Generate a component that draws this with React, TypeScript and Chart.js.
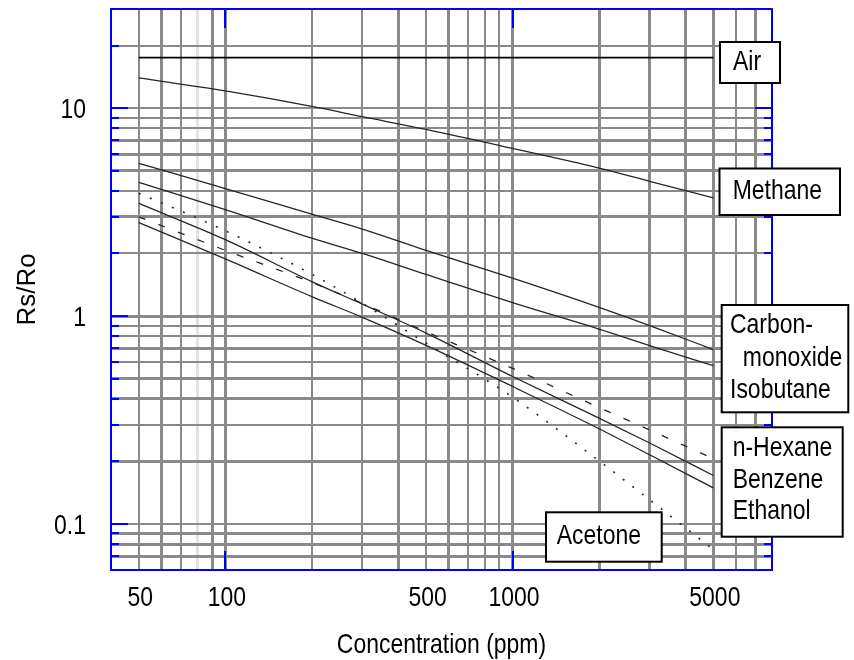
import React, { useEffect, useRef } from 'react';
import { Chart, registerables } from 'chart.js';

Chart.register(...registerables);

// ---- data ----
const concentrations = [50, 100, 200, 300, 500, 1000, 2000, 3000, 5000];
const air = [17.5, 17.5, 17.5, 17.5, 17.5, 17.5, 17.5, 17.5, 17.5];
const methane = [14.0, 12.1, 10.2, 9.1, 7.9, 6.4, 5.15, 4.45, 3.7];
const carbonMonoxide = [5.43, 4.1, 3.09, 2.62, 2.07, 1.52, 1.1, 0.9, 0.69];
const isobutane = [4.4, 3.25, 2.37, 2.0, 1.585, 1.16, 0.865, 0.72, 0.577];
const nHexane = [3.0, 2.07, 1.45, 1.15, 0.84, 0.56, 0.363, 0.283, 0.206];
const benzene = [3.48, 2.33, 1.465, 1.14, 0.828, 0.512, 0.323, 0.245, 0.171];
const ethanol = [2.815, 1.883, 1.24, 0.986, 0.723, 0.458, 0.287, 0.215, 0.149];
const acetone = [3.9, 2.57, 1.59, 1.15, 0.74, 0.407, 0.201, 0.1306, 0.0752];

const xGridValues = [50, 60, 70, 80, 90, 100, 200, 300, 400, 500, 600, 700, 800, 900, 1000, 2000, 3000, 4000, 5000, 6000, 7000];
const xTickLabels = [50, 100, 500, 1000, 5000];
const yGridValues = [0.07, 0.08, 0.09, 0.1, 0.2, 0.3, 0.4, 0.5, 0.6, 0.7, 0.8, 0.9, 1, 2, 3, 4, 5, 6, 7, 8, 9, 10, 20];
const yTickLabels = [0.1, 1, 10];
const xMajorTicks = [100, 1000];
const yMajorTicks = [0.1, 1, 10];

const xTitle = 'Concentration (ppm)';
const yTitle = 'Rs/Ro';
const airLabel = ['Air'];
const methaneLabel = ['Methane'];
const coLabel = ['Carbon-', '  monoxide', 'Isobutane'];
const solventLabel = ['n-Hexane', 'Benzene', 'Ethanol'];
const acetoneLabel = ['Acetone'];

// ---- styles / layout ----
const SANS = "'Liberation Sans', Arial, sans-serif";
const TEXT_FONT = `28px ${SANS}`;
const NARROW_SCALE = 0.82;
const HEAVY_X = [60, 90, 100, 400, 600, 1000, 2000, 3000, 4000, 5000, 7000];
const FAINT_X = [80];
const HEAVY_Y = [0.07, 0.08, 0.09, 0.2, 0.4, 0.5, 0.7, 1, 3, 5, 6, 7];
const GRID = '#8a8a8a';
const LINE = '#262626';

const BOXES = [
  { lines: airLabel, x: 720, y: 42, w: 60, h: 41, tx: 733, ty: [62.5] },
  { lines: methaneLabel, x: 719.5, y: 168.5, w: 120.5, h: 46.5, tx: 732.7, ty: [191.7] },
  { lines: coLabel, x: 721.7, y: 305, w: 126.6, h: 107.3, tx: 730, ty: [325, 358.3, 390] },
  { lines: solventLabel, x: 721.7, y: 427.3, w: 121, h: 109.4, tx: 732.7, ty: [448.3, 480, 511.7] },
  { lines: acetoneLabel, x: 546, y: 512.3, w: 115.7, h: 49.4, tx: 556.7, ty: [536] },
];

const pts = (vals: number[]) => concentrations.map((c, i) => ({ x: c, y: vals[i] }));

// draw horizontally condensed text (narrow face look)
const narrowText = (ctx: CanvasRenderingContext2D, text: string, x: number, y: number, align: CanvasTextAlign) => {
  ctx.save();
  ctx.translate(x, y);
  ctx.scale(NARROW_SCALE, 1);
  ctx.font = TEXT_FONT;
  ctx.textAlign = align;
  ctx.textBaseline = 'middle';
  ctx.fillStyle = '#000000';
  ctx.fillText(text, 0, 0);
  ctx.restore();
};

const framePlugin = {
  id: 'frameAndLabels',
  afterDatasetsDraw(chart: any) {
    const { ctx, chartArea: a, scales } = chart;
    const xs = scales.x;
    const ys = scales.y;
    ctx.save();
    // blue frame
    ctx.strokeStyle = '#0000ff';
    ctx.lineWidth = 2;
    ctx.strokeRect(a.left, a.top, a.right - a.left, a.bottom - a.top);
    ctx.beginPath();
    yGridValues.forEach((v) => {
      const py = Math.round(ys.getPixelForValue(v));
      const len = yMajorTicks.includes(v) ? 17 : 8;
      ctx.moveTo(a.left, py);
      ctx.lineTo(a.left + len, py);
      ctx.moveTo(a.right, py);
      ctx.lineTo(a.right - len, py);
    });
    xMajorTicks.forEach((v) => {
      const px = Math.round(xs.getPixelForValue(v));
      ctx.moveTo(px, a.top);
      ctx.lineTo(px, a.top + 19);
      ctx.moveTo(px, a.bottom);
      ctx.lineTo(px, a.bottom - 19);
    });
    ctx.stroke();

    // tick labels
    xTickLabels.forEach((v) => {
      narrowText(ctx, String(v), xs.getPixelForValue(v) + 1.5, a.bottom + 28, 'center');
    });
    yTickLabels.forEach((v) => {
      narrowText(ctx, String(v), a.left - 25, ys.getPixelForValue(v) + 2, 'right');
    });
    // x title
    narrowText(ctx, xTitle, (a.left + a.right) / 2, 645, 'center');

    // label boxes
    BOXES.forEach((b) => {
      ctx.fillStyle = '#ffffff';
      ctx.fillRect(b.x, b.y, b.w, b.h);
      ctx.strokeStyle = '#000000';
      ctx.lineWidth = 2;
      ctx.strokeRect(b.x, b.y, b.w, b.h);
      b.lines.forEach((t, i) => narrowText(ctx, t, b.tx, b.ty[i], 'left'));
    });
    ctx.restore();
  },
};

export default function App() {
  const ref = useRef<HTMLCanvasElement | null>(null);

  useEffect(() => {
    if (!ref.current) return;
    const line = (label: string, vals: number[], extra: any = {}) => ({
      label,
      data: pts(vals),
      borderColor: LINE,
      borderWidth: 1.3,
      pointRadius: 0,
      fill: false,
      cubicInterpolationMode: 'monotone',
      ...extra,
    });
    const chart = new Chart(ref.current, {
      type: 'line',
      data: {
        datasets: [
          line('Air', air, { borderColor: '#000000', borderWidth: 1.6 }),
          line('Methane', methane),
          line('Carbon-monoxide', carbonMonoxide),
          line('Isobutane', isobutane),
          line('n-Hexane', nHexane, { borderDash: [7, 14] }),
          line('Benzene', benzene),
          line('Ethanol', ethanol),
          line('Acetone', acetone, { borderDash: [2, 10], borderWidth: 1.6 }),
        ] as any,
      },
      options: {
        responsive: false,
        animation: false,
        events: [],
        layout: { padding: { top: 9, right: 82, left: 0, bottom: 0 } },
        plugins: { legend: { display: false }, tooltip: { enabled: false } },
        scales: {
          x: {
            type: 'logarithmic',
            min: 40,
            max: 8000,
            afterBuildTicks: (s: any) => {
              s.ticks = xGridValues.map((v) => ({ value: v }));
            },
            afterFit: (s: any) => {
              s.height = 90;
              s.paddingLeft = 0;
              s.paddingRight = 0;
              s.paddingTop = 0;
              s.paddingBottom = 0;
            },
            ticks: { display: false, autoSkip: false },
            grid: {
              drawTicks: false,
              color: (c: any) => (FAINT_X.includes(c.tick?.value) ? '#e2e2e2' : GRID),
              lineWidth: (c: any) => (HEAVY_X.includes(c.tick?.value) || FAINT_X.includes(c.tick?.value) ? 3 : 2),
            },
            border: { display: false },
            title: { display: false },
          },
          y: {
            type: 'logarithmic',
            min: 0.06,
            max: 30,
            afterBuildTicks: (s: any) => {
              s.ticks = yGridValues.map((v) => ({ value: v }));
            },
            afterFit: (s: any) => {
              s.width = 111;
              s.paddingLeft = 0;
              s.paddingRight = 0;
              s.paddingTop = 0;
              s.paddingBottom = 0;
            },
            ticks: { display: false, autoSkip: false },
            grid: {
              drawTicks: false,
              color: GRID,
              lineWidth: (c: any) => (HEAVY_Y.includes(c.tick?.value) ? 3 : 2),
            },
            border: { display: false },
            title: {
              display: true,
              text: yTitle,
              color: '#000000',
              font: { family: SANS, size: 26, lineHeight: 1 },
              padding: { top: 14.5, bottom: 0 },
            },
          },
        },
      } as any,
      plugins: [framePlugin],
    });
    return () => chart.destroy();
  }, []);

  return (
    <div style={{ position: 'absolute', left: 0, top: 0, width: 854, height: 660, background: '#ffffff' }}>
      <canvas ref={ref} width={854} height={660} style={{ display: 'block' }} />
    </div>
  );
}
